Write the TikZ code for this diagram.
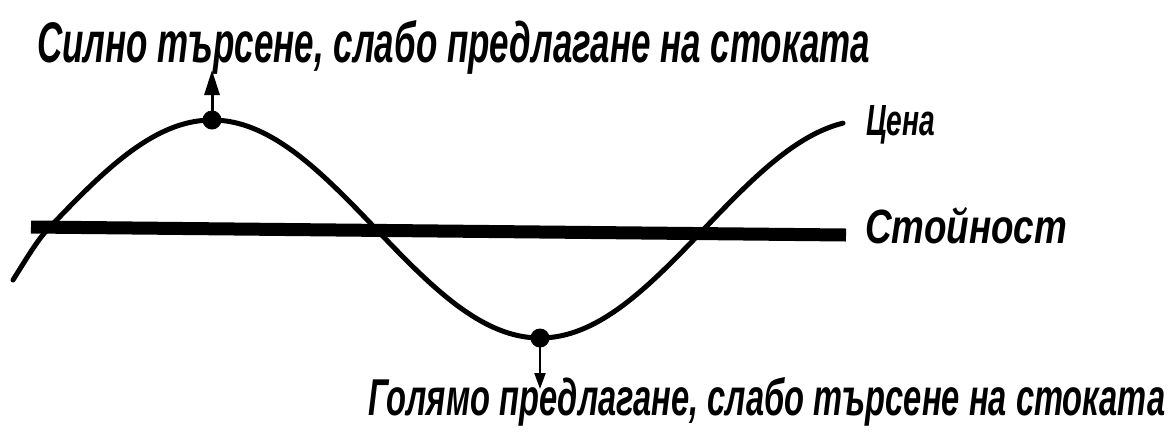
\documentclass[tikz,border=0pt]{standalone}
\usepackage{fontspec}
\setmainfont{Liberation Sans}
\usepackage{graphicx}
\usetikzlibrary{arrows.meta}
\begin{document}
\begin{tikzpicture}[x=1pt,y=-1pt,
  lbl/.style={inner sep=0pt, anchor=base west},
  dotmark/.style={circle, fill=black, inner sep=0pt, minimum size=19pt},
  curve/.style={line width=5pt, line cap=round},
  bar/.style={line width=13pt},
  uparrow/.style={line width=3pt, -{Triangle[length=25pt,width=15pt]}},
  downarrow/.style={line width=2.2pt, -{Triangle[length=16pt,width=11pt]}},
]
\useasboundingbox (0,0) rectangle (1175,432);
% value line
\coordinate (barL) at (31,227);
\coordinate (barR) at (846,235);
\draw[bar] (barL) -- (barR);
% price curve
\coordinate (cStart) at (13,280);
\coordinate (cZero) at (48,229);
\draw[curve] (cStart) .. controls (28,256) and (38,239.4) .. (cZero)
  -- plot[domain=48:843, samples=140, smooth] (\x, {229 - 109*sin((\x-48)/328*180)});
% extremum marks
\node[dotmark] (pk) at (212,120) {};
\node[dotmark] (tr) at (540,338) {};
\coordinate (pkTip) at (212,70);
\coordinate (trTip) at (540,389);
\draw[uparrow] (pk.center) -- (pkTip);
\draw[downarrow] (tr.center) -- (trTip);
% labels
\node[lbl] (top) at (37,62) {\resizebox{833pt}{42pt}{\bfseries\itshape Силно търсене, слабо предлагане на стоката}};
\node[lbl] (bot) at (368,415) {\resizebox{797pt}{38pt}{\bfseries\itshape Голямо предлагане, слабо търсене на стоката}};
\node[lbl] (price) at (866,135) {\resizebox{69pt}{30pt}{\bfseries\itshape Цена}};
\node[lbl] (value) at (865,243) {\resizebox{202pt}{36pt}{\bfseries\itshape Стойност}};
\end{tikzpicture}
\end{document}
